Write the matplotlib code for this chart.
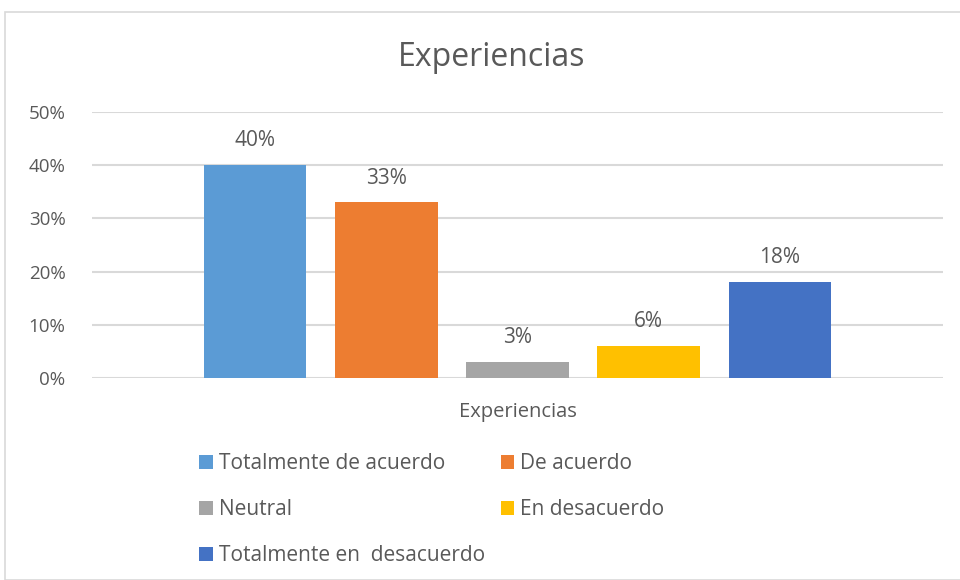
import matplotlib
matplotlib.use("Agg")
import matplotlib.pyplot as plt
from matplotlib.patches import Patch, Rectangle
from matplotlib.ticker import FuncFormatter, MultipleLocator

category = ["Experiencias"]
series = ["Totalmente de acuerdo", "De acuerdo", "Neutral", "En desacuerdo", "Totalmente en  desacuerdo"]
values = [40, 33, 3, 6, 18]
colors = ["#5B9BD5", "#ED7D31", "#A5A5A5", "#FFC000", "#4472C4"]
title = "Experiencias"

plt.rcParams['font.family'] = ['Open Sans', 'DejaVu Sans']
txt = "#595959"

fig = plt.figure(figsize=(9.6, 5.8), dpi=100)
ax = fig.add_axes([92/960, 1-378/580, (943-92)/960, (378-112)/580])

slot = 0.154
width = 0.12
handles = []
for i, (s, v, c) in enumerate(zip(series, values, colors)):
    x = 0 + (i - 2) * slot
    b = ax.bar(x, v, width=width, color=c, label=s, zorder=3)
    ax.bar_label(b, labels=[f"{v}%"], padding=10, fontsize=15, color=txt)
    handles.append(Patch(facecolor=c, label=s))

ax.set_xlim(-0.5, 0.5)
ax.set_ylim(0, 50)
ax.yaxis.set_major_locator(MultipleLocator(10))
ax.yaxis.set_major_formatter(FuncFormatter(lambda v, p: f"{v:.0f}%"))
ax.set_xticks([0])
ax.set_xticklabels(category)
ax.tick_params(axis='x', length=0, pad=17, labelsize=14.5, labelcolor=txt)
ax.tick_params(axis='y', length=0, pad=19, labelsize=13.5, labelcolor=txt)
ax.grid(axis='y', color="#D9D9D9", linewidth=1.5, zorder=0)
for sp in ax.spines.values():
    sp.set_visible(False)

fig.text(492/960, 1-58/580, title, ha='center', va='center', fontsize=23, color=txt)

order = [0, 2, 4, 1, 3]
leg = fig.legend([handles[i] for i in order], [series[i] for i in order],
                 loc='upper left', bbox_to_anchor=(199/960, 1-453/580), ncol=2,
                 frameon=False, fontsize=15, labelcolor=txt,
                 handlelength=0.65, handleheight=0.65, handletextpad=0.3,
                 labelspacing=1.2, columnspacing=0.75, borderaxespad=0, borderpad=0)

fig.patches.append(Rectangle((5/960, 0), 1, 1-12/580, transform=fig.transFigure,
                             fill=False, edgecolor="#D9D9D9", linewidth=1.2))

fig.savefig("out.png", dpi=100, facecolor="white")
